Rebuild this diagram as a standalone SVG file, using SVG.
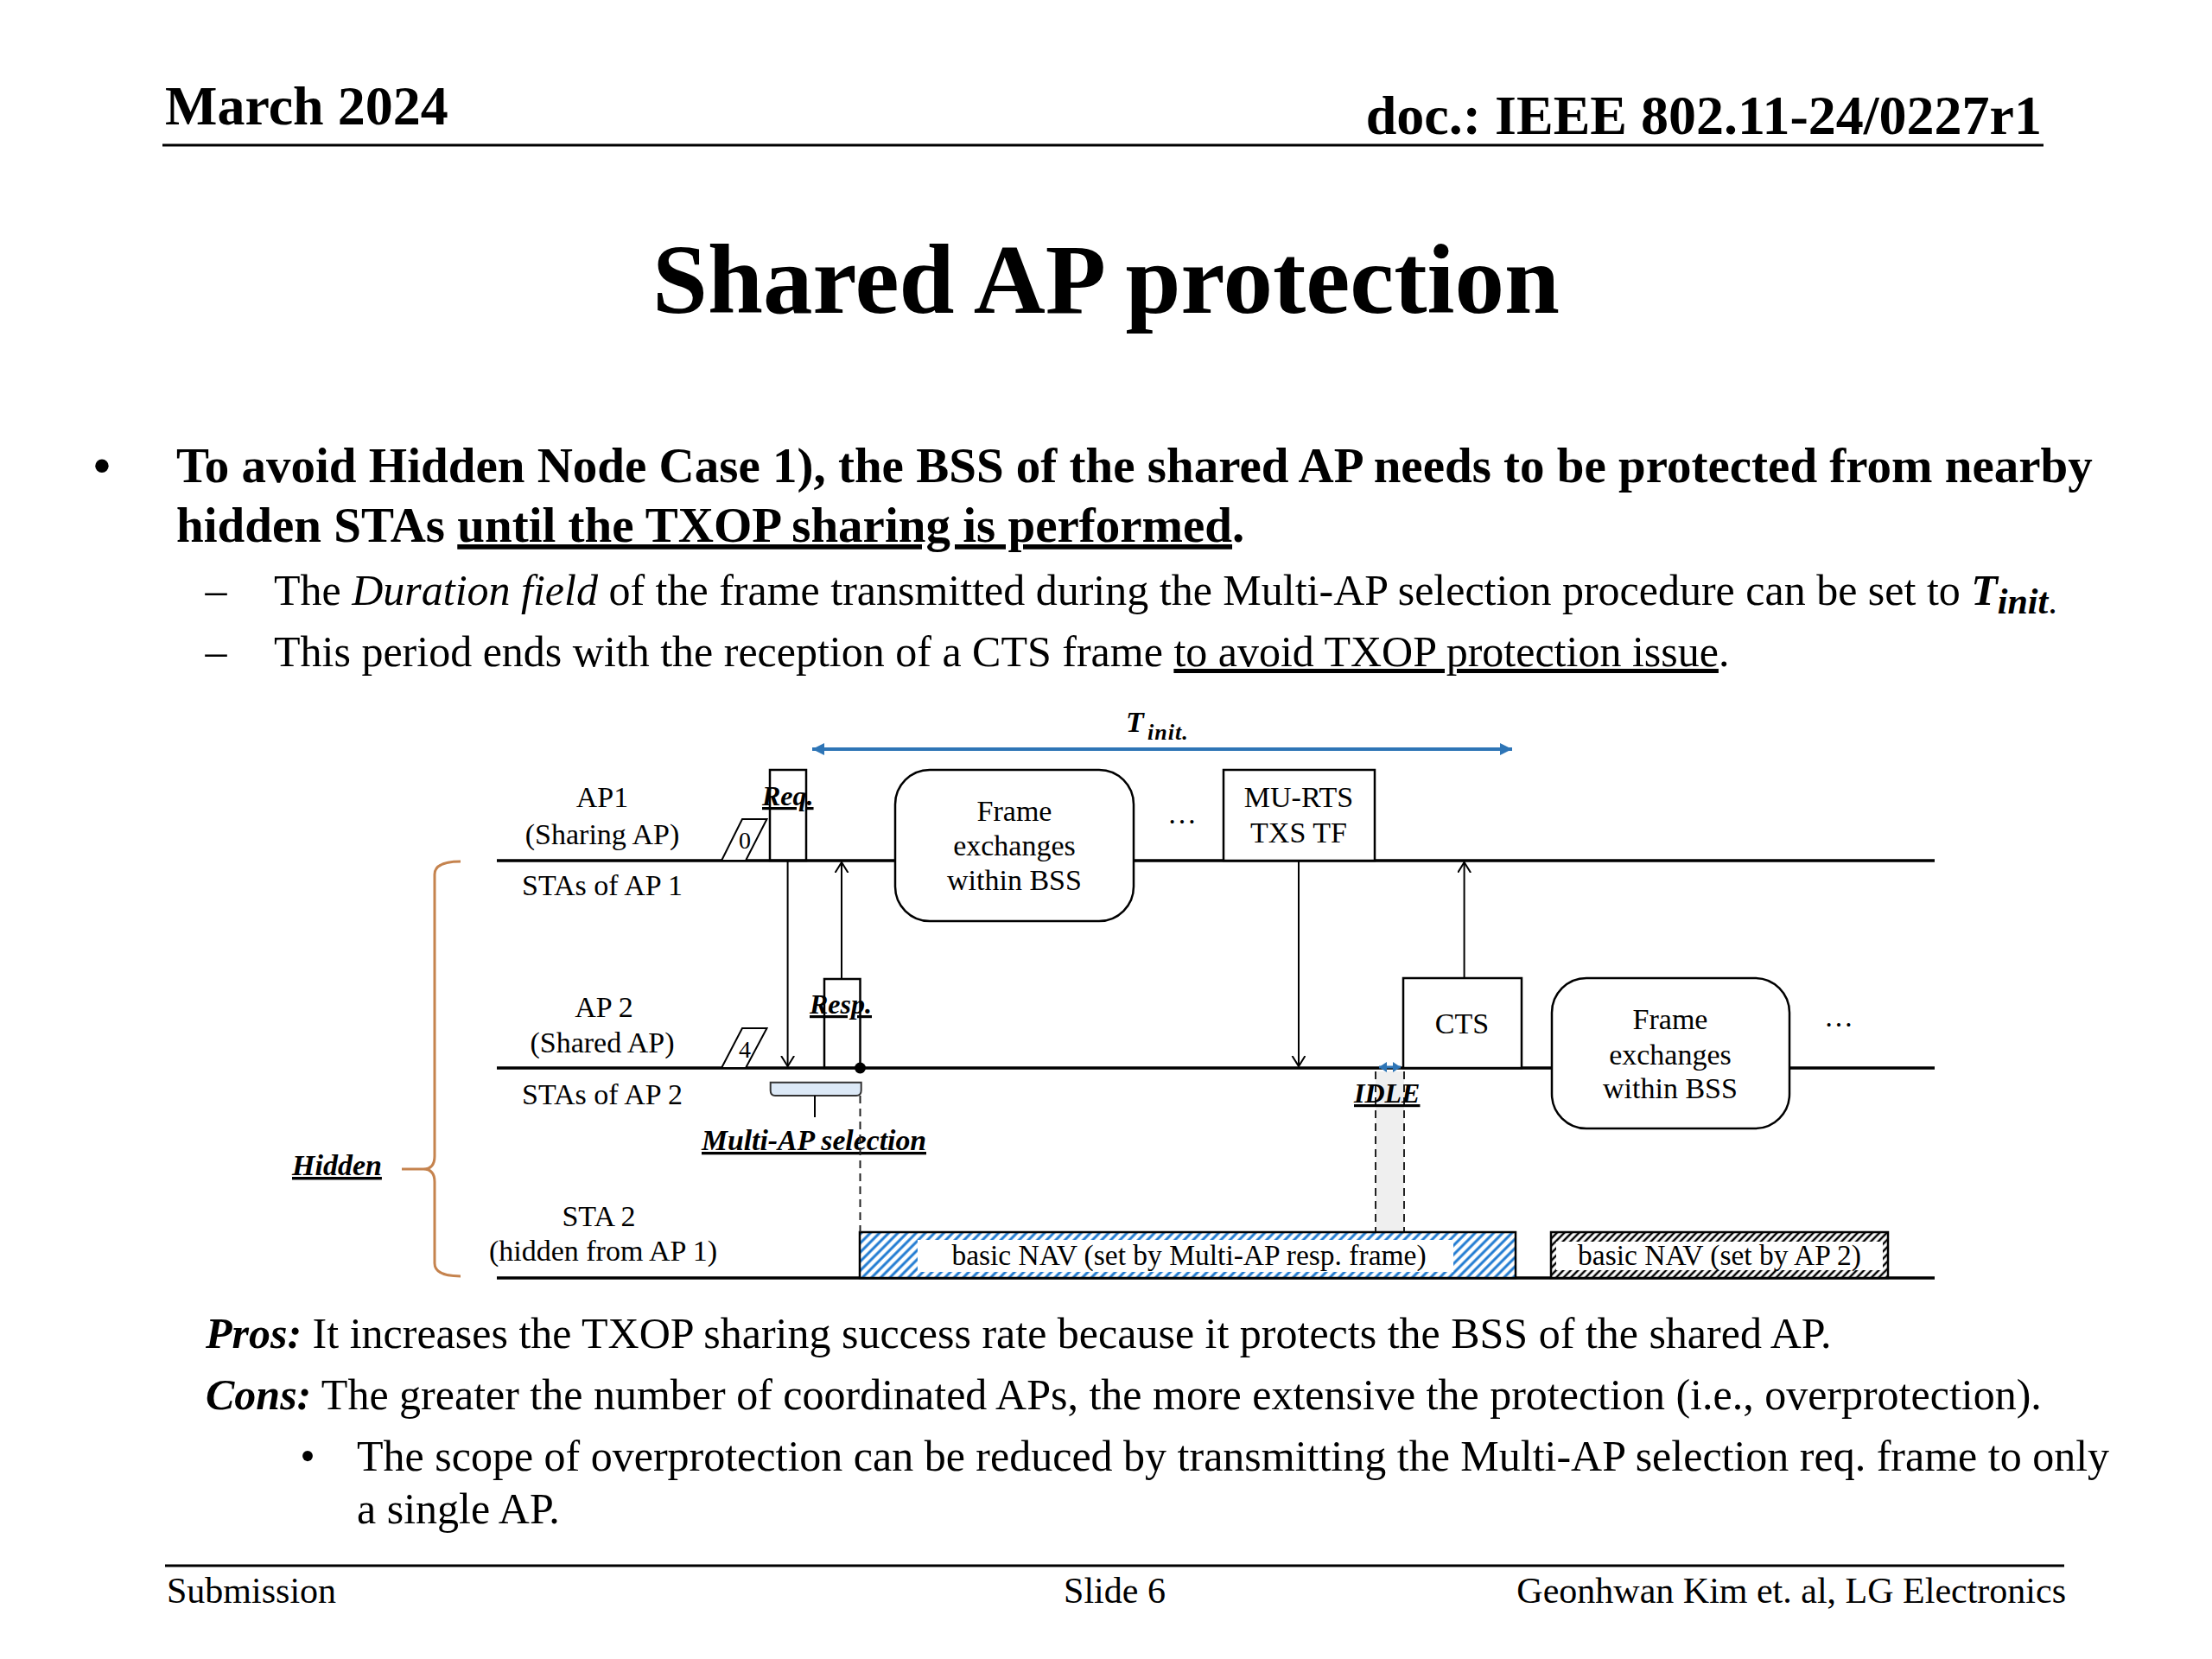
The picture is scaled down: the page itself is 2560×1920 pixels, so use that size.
<svg xmlns="http://www.w3.org/2000/svg" width="2560" height="1920" viewBox="0 0 2560 1920">
<style>
text { font-family: "Liberation Serif", "Times New Roman", serif; fill: #000; }
.lbl { font-size: 34px; text-anchor: middle; }
.bi { font-weight: bold; font-style: italic; }
.ul { text-decoration: underline; }
.box { fill: #fff; stroke: #000; stroke-width: 2.5; }
.tl { stroke: #000; stroke-width: 3.5; fill: none; }
.arr { stroke: #000; stroke-width: 2; fill: none; marker-end: url(#open); }
.dash { stroke: #222; stroke-width: 2; stroke-dasharray: 9 6; fill: none; }
.body { font-size: 50px; }
.foot { font-size: 42px; }
</style>
<defs>
<marker id="open" markerUnits="userSpaceOnUse" markerWidth="16" markerHeight="18" refX="12" refY="8" orient="auto">
<path d="M0,0.5 L12,8 L0,15.5" fill="none" stroke="#000" stroke-width="2"/>
</marker>
<marker id="blueHead" markerUnits="userSpaceOnUse" markerWidth="16" markerHeight="16" refX="14" refY="7" orient="auto-start-reverse">
<path d="M0,0 L14,7 L0,14 Z" fill="#2e75b6"/>
</marker>
<marker id="blueSmall" markerUnits="userSpaceOnUse" markerWidth="10" markerHeight="12" refX="9" refY="6" orient="auto-start-reverse">
<path d="M0,0 L9,6 L0,12 Z" fill="#2e75b6"/>
</marker>
<pattern id="hatchBlue" patternUnits="userSpaceOnUse" width="7.5" height="7.5" patternTransform="rotate(45)">
<rect width="7.5" height="7.5" fill="#fff"/>
<line x1="3.75" y1="0" x2="3.75" y2="7.5" stroke="#1f7ad1" stroke-width="3"/>
</pattern>
<pattern id="hatchBlack" patternUnits="userSpaceOnUse" width="6" height="6" patternTransform="rotate(45)">
<rect width="6" height="6" fill="#fff"/>
<line x1="3" y1="0" x2="3" y2="6" stroke="#000" stroke-width="2.5"/>
</pattern>
</defs>
<rect width="2560" height="1920" fill="#fff"/>

<g id="header">
<text x="191" y="144" font-size="64" font-weight="bold">March 2024</text>
<text x="2363" y="155" font-size="64" font-weight="bold" text-anchor="end">doc.: IEEE 802.11-24/0227r1</text>
<line x1="188" y1="168" x2="2365" y2="168" stroke="#000" stroke-width="3"/>
<text x="1280" y="362" font-size="115" font-weight="bold" text-anchor="middle">Shared AP protection</text>
</g>

<g id="bullets">
<text x="118" y="558" font-size="57" font-weight="bold" text-anchor="middle">•</text>
<text x="204" y="558" font-size="57" font-weight="bold">To avoid Hidden Node Case 1), the BSS of the shared AP needs to be protected from nearby</text>
<text x="204" y="627" font-size="57" font-weight="bold">hidden STAs <tspan class="ul">until the TXOP sharing is performed</tspan>.</text>
<text x="250" y="700" class="body" text-anchor="middle">–</text>
<text x="317" y="700" class="body">The <tspan font-style="italic">Duration field</tspan> of the frame transmitted during the Multi-AP selection procedure can be set to <tspan class="bi">T</tspan><tspan class="bi" font-size="42" dy="10">init</tspan><tspan font-size="42">.</tspan></text>
<text x="250" y="771" class="body" text-anchor="middle">–</text>
<text x="317" y="771" class="body">This period ends with the reception of a CTS frame <tspan class="ul">to avoid TXOP protection issue</tspan>.</text>
</g>

<g id="timelines">
<line class="tl" x1="575" y1="996" x2="2239" y2="996"/>
<line class="tl" x1="575" y1="1236" x2="2239" y2="1236"/>
<line class="tl" x1="575" y1="1479" x2="2239" y2="1479"/>
</g>

<g id="labels">
<text class="lbl" x="697" y="934">AP1</text>
<text class="lbl" x="697" y="977">(Sharing AP)</text>
<text class="lbl" x="697" y="1036">STAs of AP 1</text>
<text class="lbl" x="699" y="1177">AP 2</text>
<text class="lbl" x="697" y="1218">(Shared AP)</text>
<text class="lbl" x="697" y="1278">STAs of AP 2</text>
<text class="lbl" x="693" y="1419">STA 2</text>
<text class="lbl" x="698" y="1459">(hidden from AP 1)</text>
</g>

<g id="hidden-brace">
<path d="M533,997 Q503,997 503,1012 L503,1338 Q503,1353 490,1353 Q503,1353 503,1368 L503,1462 Q503,1477 533,1477" fill="none" stroke="#c5834e" stroke-width="3"/>
<line x1="465" y1="1353" x2="490" y2="1353" stroke="#c5834e" stroke-width="3"/>
<text x="338" y="1360" font-size="34" class="bi ul">Hidden</text>
</g>

<g id="tinit">
<line x1="940" y1="867" x2="1750" y2="867" stroke="#2e75b6" stroke-width="4" marker-start="url(#blueHead)" marker-end="url(#blueHead)"/>
<text x="1303" y="847" font-size="34" class="bi">T</text>
<text x="1328" y="856" font-size="26" class="bi" letter-spacing="1">init.</text>
</g>

<g id="backoff-ap1">
<polygon points="835,996 863,996 887.5,948 859,948" fill="#fff" stroke="#000" stroke-width="2"/>
<text x="862" y="982" font-size="28" text-anchor="middle">0</text>
</g>
<g id="backoff-ap2">
<polygon points="835,1236 863,1236 887.5,1190 859,1190" fill="#fff" stroke="#000" stroke-width="2"/>
<text x="862" y="1224" font-size="28" text-anchor="middle">4</text>
</g>

<g id="req">
<rect class="box" x="891" y="891" width="42" height="105" style="fill:none"/>
<text x="882" y="932" font-size="32" class="bi ul">Req.</text>
</g>

<g id="resp">
<rect class="box" x="954" y="1133" width="41.5" height="103" style="fill:none"/>
<text x="937" y="1173" font-size="32" class="bi ul">Resp.</text>
</g>

<g id="frame-ex-1">
<rect class="box" x="1036" y="891" width="276" height="175" rx="40" ry="40"/>
<text class="lbl" x="1174" y="950">Frame</text>
<text class="lbl" x="1174" y="990">exchanges</text>
<text class="lbl" x="1174" y="1030">within BSS</text>
</g>

<g id="dots-1"><text class="lbl" x="1368" y="953">…</text></g>

<g id="mu-rts">
<rect class="box" x="1416" y="891" width="175" height="105"/>
<text class="lbl" x="1503" y="934">MU-RTS</text>
<text class="lbl" x="1503" y="975">TXS TF</text>
</g>

<g id="cts">
<rect class="box" x="1624" y="1132" width="137" height="104"/>
<text class="lbl" x="1692" y="1196">CTS</text>
</g>

<g id="frame-ex-2">
<rect class="box" x="1796" y="1132" width="275" height="174" rx="40" ry="40"/>
<text class="lbl" x="1933" y="1191">Frame</text>
<text class="lbl" x="1933" y="1232">exchanges</text>
<text class="lbl" x="1933" y="1271">within BSS</text>
</g>

<g id="dots-2"><text class="lbl" x="2128" y="1188">…</text></g>

<g id="idle">
<rect x="1592" y="1240" width="33" height="186" fill="#efefef"/>
<line class="dash" x1="1592" y1="1240" x2="1592" y2="1426"/>
<line class="dash" x1="1625" y1="1240" x2="1625" y2="1426"/>
<line x1="1596" y1="1235" x2="1621" y2="1235" stroke="#2e75b6" stroke-width="3" marker-start="url(#blueSmall)" marker-end="url(#blueSmall)"/>
<text x="1567" y="1276" font-size="32" class="bi ul">IDLE</text>
</g>

<g id="multi-ap-selection">
<path d="M891.7,1252.7 L996.7,1252.7 L996.7,1262 Q996.7,1268 991,1268 L897,1268 Q891.7,1268 891.7,1262 Z" fill="#dce9f7" stroke="#333" stroke-width="2"/>
<line x1="943" y1="1268" x2="943" y2="1293" stroke="#000" stroke-width="2"/>
<text x="812" y="1331" font-size="33" class="bi ul" textLength="260" lengthAdjust="spacingAndGlyphs">Multi-AP selection</text>
</g>

<g id="nav-1">
<rect x="995" y="1426" width="759" height="53" fill="url(#hatchBlue)" stroke="#000" stroke-width="2.5"/>
<rect x="1062" y="1435" width="620" height="37" fill="#fff"/>
<text x="1376" y="1464" font-size="33.5" text-anchor="middle">basic NAV (set by Multi-AP resp. frame)</text>
</g>

<g id="nav-2">
<rect x="1795" y="1426" width="390" height="53" fill="url(#hatchBlack)" stroke="#000" stroke-width="2.5"/>
<rect x="1801" y="1437" width="378" height="33" fill="#fff"/>
<text x="1990" y="1464" font-size="33.5" text-anchor="middle">basic NAV (set by AP 2)</text>
</g>

<g id="connectors">
<line class="arr" x1="911.6" y1="996" x2="911.6" y2="1234"/>
<line class="arr" x1="974" y1="1133" x2="974" y2="998"/>
<line class="arr" x1="1503" y1="996" x2="1503" y2="1234"/>
<line class="arr" x1="1694.6" y1="1132" x2="1694.6" y2="998"/>
<line class="dash" x1="995.5" y1="1268" x2="995.5" y2="1426"/>
<circle cx="995.5" cy="1236" r="6.5" fill="#000"/>
</g>

<g id="pros-cons">
<text x="238" y="1560" class="body"><tspan class="bi">Pros:</tspan> It increases the TXOP sharing success rate because it protects the BSS of the shared AP.</text>
<text x="238" y="1631" class="body"><tspan class="bi">Cons:</tspan> The greater the number of coordinated APs, the more extensive the protection (i.e., overprotection).</text>
<text x="356" y="1702" class="body" text-anchor="middle">•</text>
<text x="413" y="1702" class="body">The scope of overprotection can be reduced by transmitting the Multi-AP selection req. frame to only</text>
<text x="413" y="1763" class="body">a single AP.</text>
</g>

<g id="footer">
<line x1="191" y1="1812" x2="2389" y2="1812" stroke="#000" stroke-width="3"/>
<text x="193" y="1855" class="foot">Submission</text>
<text x="1290" y="1855" class="foot" text-anchor="middle">Slide 6</text>
<text x="2391" y="1855" class="foot" text-anchor="end">Geonhwan Kim et. al, LG Electronics</text>
</g>
</svg>
